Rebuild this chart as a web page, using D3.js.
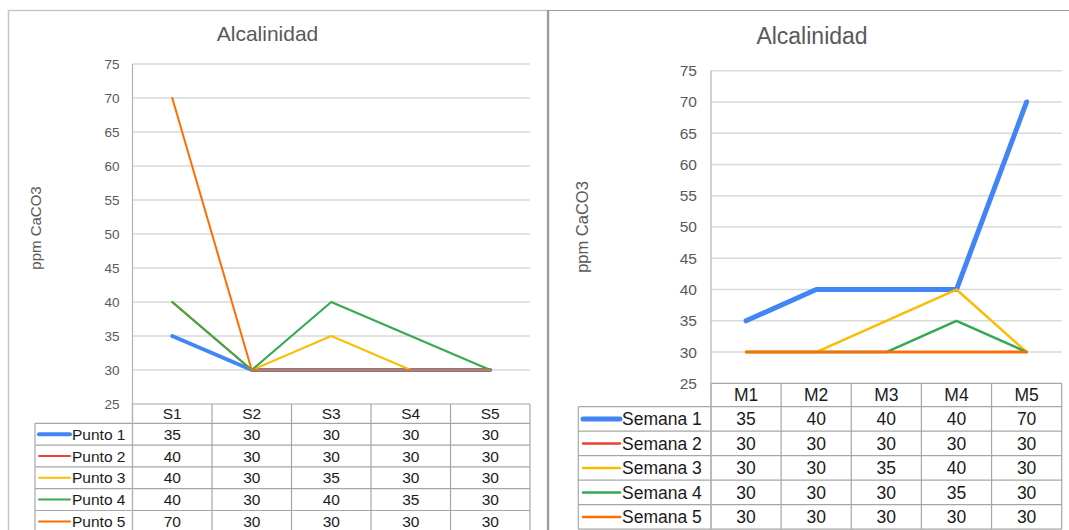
<!DOCTYPE html>
<html>
<head>
<meta charset="utf-8">
<script src="https://cdn.jsdelivr.net/npm/d3@7"></script>
<style>
  html, body { margin: 0; padding: 0; background: #ffffff; }
  svg { display: block; font-family: "Liberation Sans", Arial, sans-serif; }
</style>
</head>
<body>
<svg id="chart" width="1069" height="530"></svg>
<script>
// ---- data ----
const yTicks = [25, 30, 35, 40, 45, 50, 55, 60, 65, 70, 75];

// Sampling week per point
const sCategories = ["S1", "S2", "S3", "S4", "S5"];
const puntoNames = ["Punto 1", "Punto 2", "Punto 3", "Punto 4", "Punto 5"];
const punto1 = [35, 30, 30, 30, 30];
const punto2 = [40, 30, 30, 30, 30];
const punto3 = [40, 30, 35, 30, 30];
const punto4 = [40, 30, 40, 35, 30];
const punto5 = [70, 30, 30, 30, 30];

// Sampling point per week
const mCategories = ["M1", "M2", "M3", "M4", "M5"];
const semanaNames = ["Semana 1", "Semana 2", "Semana 3", "Semana 4", "Semana 5"];
const semana1 = [35, 40, 40, 40, 70];
const semana2 = [30, 30, 30, 30, 30];
const semana3 = [30, 30, 35, 40, 30];
const semana4 = [30, 30, 30, 35, 30];
const semana5 = [30, 30, 30, 30, 30];

const seriesColors = ["#4285F4", "#EA4335", "#FBBC04", "#34A853", "#FF6D01"];

const svg = d3.select("#chart");

function drawChart(o) {
  const g = svg.append("g");

  const x = d3.scaleBand().domain(o.categories).range([o.xL, o.xR]);
  const y = d3.scaleLinear().domain([25, 75]).range([o.yBot, o.yTop]);

  // title
  g.append("text")
    .attr("x", o.titleX).attr("y", o.titleY)
    .attr("text-anchor", "middle")
    .attr("font-size", o.titleSize)
    .attr("fill", "#595959")
    .text("Alcalinidad");

  // y axis title
  g.append("text")
    .attr("transform", `translate(${o.yTitleX},${o.yTitleY}) rotate(-90)`)
    .attr("text-anchor", "middle")
    .attr("font-size", o.yTitleSize)
    .attr("fill", "#595959")
    .text("ppm CaCO3");

  // horizontal gridlines
  g.append("g").selectAll("line")
    .data(yTicks.filter(t => t > 25))
    .join("line")
    .attr("x1", o.xL).attr("x2", o.xR)
    .attr("y1", d => y(d)).attr("y2", d => y(d))
    .attr("stroke", "#d9d9d9").attr("stroke-width", 1.5);

  // tick labels
  const axis = d3.axisLeft(y).tickValues(yTicks).tickSize(0).tickPadding(o.tickPad);
  const ag = g.append("g").attr("transform", `translate(${o.xL},0)`).call(axis);
  ag.select(".domain").remove();
  ag.selectAll("text")
    .attr("font-size", o.tickSize)
    .attr("font-family", "Liberation Sans, Arial, sans-serif")
    .attr("fill", "#595959");

  // data table grid
  const rowTops = d3.range(o.series.length + 1).map(i => o.headerBot + i * o.rowH);
  const tableBottom = rowTops[rowTops.length - 1];
  const tg = g.append("g").attr("stroke", "#a6a6a6").attr("stroke-width", 1.2);
  tg.append("line")
    .attr("x1", o.xL).attr("x2", o.xR)
    .attr("y1", o.yBot).attr("y2", o.yBot);
  tg.selectAll("line.row")
    .data(rowTops)
    .join("line").attr("class", "row")
    .attr("x1", o.legendX).attr("x2", o.xR)
    .attr("y1", d => d).attr("y2", d => d);
  tg.selectAll("line.col")
    .data(o.categories.map(c => x(c) + x.bandwidth()).concat([o.xL]))
    .join("line").attr("class", "col")
    .attr("x1", d => d).attr("x2", d => d)
    .attr("y1", o.yBot).attr("y2", tableBottom);
  tg.append("line")
    .attr("x1", o.legendX).attr("x2", o.legendX)
    .attr("y1", o.headerBot).attr("y2", tableBottom);

  // left axis line through plot and table
  g.append("line")
    .attr("x1", o.xL).attr("x2", o.xL)
    .attr("y1", o.yTop).attr("y2", tableBottom)
    .attr("stroke", "#b3b3b3").attr("stroke-width", 1.2);

  // header labels
  g.append("g").selectAll("text")
    .data(o.categories)
    .join("text")
    .attr("x", d => x(d) + x.bandwidth() / 2)
    .attr("y", (o.yBot + o.headerBot) / 2)
    .attr("dy", "0.36em")
    .attr("text-anchor", "middle")
    .attr("font-size", o.tableSize)
    .attr("fill", "#1a1a1a")
    .text(d => d);

  // rows: legend key, name and values
  o.series.forEach((vals, i) => {
    const cy = rowTops[i] + o.rowH / 2;
    g.append("line")
      .attr("x1", o.keyX1).attr("x2", o.keyX2)
      .attr("y1", cy).attr("y2", cy)
      .attr("stroke", seriesColors[i])
      .attr("stroke-width", i === 0 ? o.thick : o.thin)
      .attr("stroke-linecap", "round");
    g.append("text")
      .attr("x", o.keyX2 + 2).attr("y", cy).attr("dy", "0.36em")
      .attr("font-size", o.tableSize)
      .attr("fill", "#1a1a1a")
      .text(o.names[i]);
    g.append("g").selectAll("text")
      .data(vals)
      .join("text")
      .attr("x", (d, j) => x(o.categories[j]) + x.bandwidth() / 2)
      .attr("y", cy).attr("dy", "0.36em")
      .attr("text-anchor", "middle")
      .attr("font-size", o.tableSize)
      .attr("fill", "#1a1a1a")
      .text(d => d);
  });

  // series lines
  const line = d3.line()
    .x((d, j) => x(o.categories[j]) + x.bandwidth() / 2)
    .y(d => y(d));
  o.series.forEach((vals, i) => {
    g.append("path")
      .attr("d", line(vals))
      .attr("fill", "none")
      .attr("stroke", seriesColors[i])
      .attr("stroke-width", i === 0 ? o.thick : o.thin)
      .attr("stroke-linejoin", "round")
      .attr("stroke-linecap", "round");
  });
}

// frames
svg.append("rect")
  .attr("x", 8.5).attr("y", 10.5).attr("width", 540).attr("height", 540)
  .attr("fill", "none").attr("stroke", "#c6c6c6").attr("stroke-width", 1.5);

drawChart({
  categories: sCategories, names: puntoNames,
  series: [punto1, punto2, punto3, punto4, punto5],
  xL: 132.5, xR: 530, yTop: 64, yBot: 404,
  headerBot: 423.3, rowH: 21.8, legendX: 35,
  keyX1: 39, keyX2: 70,
  titleX: 267.5, titleY: 41, titleSize: 21,
  yTitleX: 41, yTitleY: 228, yTitleSize: 15,
  tickSize: 13.5, tickPad: 13, tableSize: 15.5,
  thick: 4, thin: 2
});

svg.append("line")
  .attr("x1", 548).attr("x2", 1069).attr("y1", 10.5).attr("y2", 10.5)
  .attr("stroke", "#9a9a9a").attr("stroke-width", 1.2);
svg.append("line")
  .attr("x1", 548).attr("x2", 548).attr("y1", 10).attr("y2", 530)
  .attr("stroke", "#9a9a9a").attr("stroke-width", 2.2);

drawChart({
  categories: mCategories, names: semanaNames,
  series: [semana1, semana2, semana3, semana4, semana5],
  xL: 711, xR: 1061.7, yTop: 70.7, yBot: 383.3,
  headerBot: 406.7, rowH: 24.5, legendX: 578.3,
  keyX1: 583, keyX2: 620,
  titleX: 812, titleY: 44, titleSize: 23,
  yTitleX: 588, yTitleY: 227, yTitleSize: 16.5,
  tickSize: 15.5, tickPad: 14, tableSize: 17.5,
  thick: 5, thin: 2.5
});
</script>
</body>
</html>
